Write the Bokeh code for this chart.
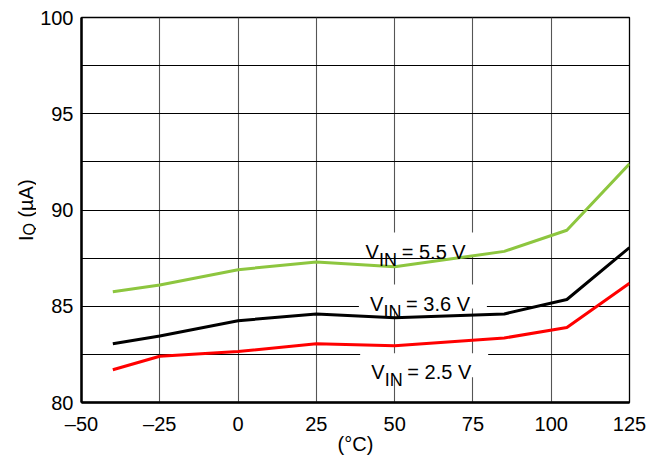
import math
from bokeh.plotting import figure
from bokeh.layouts import row
from bokeh.models import Range1d, FixedTicker, Label
from bokeh.core.properties import value
from bokeh.embed import file_html
from bokeh.resources import INLINE

# ---- data ----
temps = [-40, -25, 0, 25, 50, 85, 105, 125]
iq_55 = [85.75, 86.1, 86.9, 87.3, 87.05, 87.85, 88.95, 92.4]
iq_36 = [83.05, 83.45, 84.25, 84.6, 84.4, 84.6, 85.35, 88.05]
iq_25 = [81.7, 82.4, 82.65, 83.05, 82.95, 83.35, 83.9, 86.2]

x_ticks = [-50, -25, 0, 25, 50, 75, 100, 125]
x_tick_labels = {-50: "\u201350", -25: "\u201325"}
y_ticks = [80, 85, 90, 95, 100]
y_grid = [82.5, 85, 87.5, 90, 92.5, 95, 97.5]
x_grid = [-25, 0, 25, 50, 75, 100]

series_labels = ["= 5.5 V", "= 3.6 V", "= 2.5 V"]
label_x = [40.7, 42.1, 42.5]
label_y = [87.84, 85.14, 81.57]

FONT = "Liberation Sans"
FW, FH = 548, 385
X0, X1, Y0, Y1 = -50, 125, 80, 100
px_x = FW / (X1 - X0)
px_y = FH / (Y1 - Y0)
LEFT_W = 36
TOP, BOTTOM = 17, 56


def page_to_y(py):
    return Y0 + (TOP + FH - py) / px_y


# ---- main plot ----
p = figure(frame_width=FW, frame_height=FH,
           x_range=Range1d(X0, X1), y_range=Range1d(Y0, Y1),
           output_backend="svg", toolbar_location=None,
           min_border_left=81 - LEFT_W, min_border_right=25,
           min_border_top=TOP, min_border_bottom=BOTTOM, align="start")
p.background_fill_color = "white"
p.border_fill_color = "white"
p.outline_line_color = "black"
p.outline_line_width = 1.3

for ax in (p.xaxis[0], p.yaxis[0]):
    ax.axis_line_color = "black"
    ax.axis_line_width = 2.5
    ax.major_tick_line_color = None
    ax.minor_tick_line_color = None
    ax.major_tick_out = 0
    ax.major_tick_in = 0
    ax.major_label_text_font = FONT
    ax.major_label_text_font_size = "20px"
    ax.major_label_text_color = "black"

p.xaxis.ticker = FixedTicker(ticks=x_ticks)
p.xaxis.major_label_overrides = x_tick_labels
p.xaxis.major_label_standoff = 10
p.xaxis.axis_label = "(\u00b0C)"
p.xaxis.axis_label_text_font = FONT
p.xaxis.axis_label_text_font_size = "20px"
p.xaxis.axis_label_text_font_style = "normal"
p.xaxis.axis_label_text_color = "black"
p.xaxis.axis_label_standoff = -5
p.yaxis.ticker = FixedTicker(ticks=y_ticks)
p.yaxis.major_label_standoff = 8

p.xgrid.ticker = FixedTicker(ticks=x_grid)
p.xgrid.grid_line_color = "#555555"
p.xgrid.grid_line_width = 1.1
p.ygrid.ticker = FixedTicker(ticks=y_grid)
p.ygrid.grid_line_color = "black"
p.ygrid.grid_line_width = 1.2

# white boxes behind the series labels (cover the grid)
box_w, box_h = 128, 24
bx = [lx + (117 - 11) / 2 / px_x for lx in label_x]
by = [ly + 7 / px_y for ly in label_y]
p.rect(x=bx, y=by, width=box_w, height=box_h, width_units="screen",
       height_units="screen", fill_color="white", line_color=None)

# lines
p.line(temps, iq_55, line_color="#8DC63F", line_width=3)
p.line(temps, iq_36, line_color="black", line_width=3)
p.line(temps, iq_25, line_color="#FF0000", line_width=3)

# series labels V_IN = ...
for txt, lx, ly in zip(series_labels, label_x, label_y):
    p.add_layout(Label(x=lx, y=ly, text="V", text_font=FONT,
                       text_font_size="20px", text_color="black",
                       text_baseline="alphabetic"))
    p.add_layout(Label(x=lx, y=ly, x_offset=13.6, y_offset=-8, text="IN",
                       text_font=FONT, text_font_size="18px",
                       text_color="black", text_baseline="alphabetic"))
    p.add_layout(Label(x=lx, y=ly, x_offset=36.2, text=txt,
                       text_font=FONT, text_font_size="20px",
                       text_color="black", text_baseline="alphabetic"))

# ---- left strip holding the rotated y label I_Q (µA) ----
# same vertical geometry as the main plot so both frames line up
lf = figure(frame_width=LEFT_W, frame_height=FH, x_range=Range1d(0, LEFT_W),
            y_range=Range1d(Y0, Y1), output_backend="svg",
            toolbar_location=None, x_axis_location=None,
            y_axis_location=None, min_border_left=0, min_border_right=0,
            min_border_top=TOP, min_border_bottom=BOTTOM, align="start")
lf.outline_line_color = None
lf.grid.visible = False
lf.background_fill_color = "white"
lf.border_fill_color = "white"

ang = math.pi / 2
lf.text(x=[25.4, 25.4], y=[page_to_y(237.7), page_to_y(198)],
        text=["I", "(\u00b5A)"], angle=ang, text_font=value(FONT),
        text_font_size="20px", text_color="black",
        text_baseline="middle", text_align="center")
lf.text(x=[28.5], y=[page_to_y(228.7)], text=["Q"], angle=ang,
        text_font=value(FONT), text_font_size="16px", text_color="black",
        text_baseline="middle", text_align="center")

layout = row(lf, p)
open("out.html", "w").write(file_html(layout, INLINE))
